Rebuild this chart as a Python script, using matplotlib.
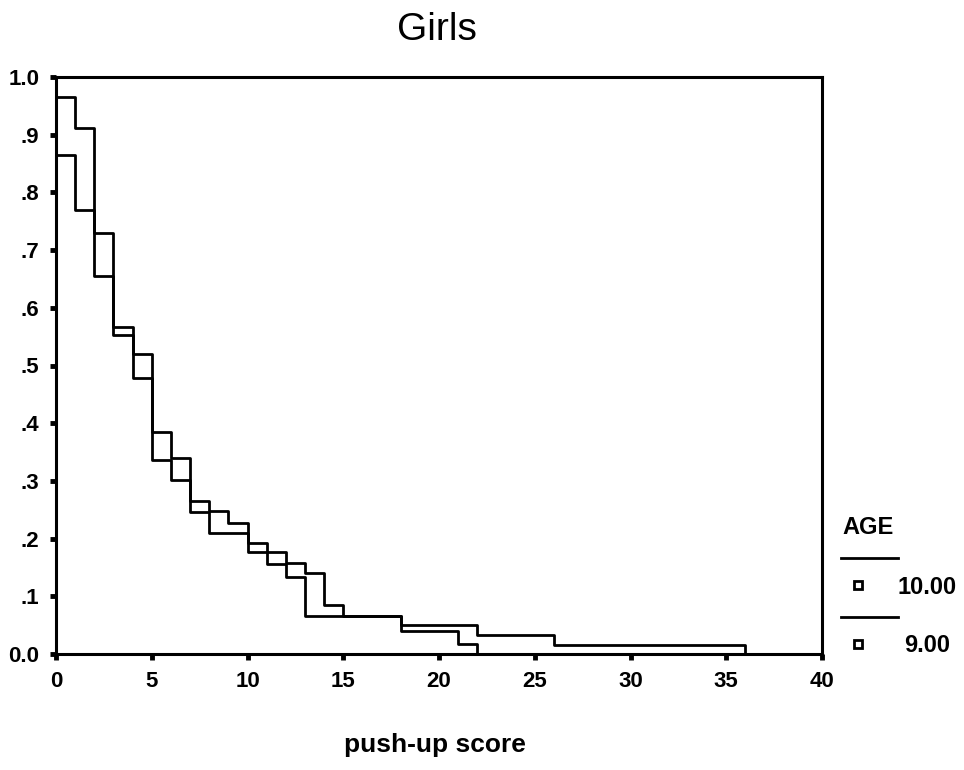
import matplotlib

matplotlib.use("Agg")
import matplotlib.pyplot as plt
from matplotlib.lines import Line2D

plt.rcParams["font.family"] = ["Liberation Sans", "DejaVu Sans"]

# Kaplan-Meier style survival steps for push-up score, by age group
scores_10 = [0, 1, 2, 3, 4, 5, 6, 7, 8, 9, 10, 11, 12, 13, 14, 15, 18, 21, 22, 26, 36]
surv_10 = [0.965, 0.912, 0.730, 0.567, 0.520, 0.385, 0.340, 0.265, 0.248, 0.227,
           0.192, 0.177, 0.158, 0.140, 0.085, 0.066, 0.050, 0.050, 0.033, 0.016, 0.0]

scores_9 = [0, 1, 2, 3, 4, 5, 6, 7, 8, 9, 10, 11, 12, 13, 14, 15, 18, 21, 22]
surv_9 = [0.865, 0.770, 0.655, 0.553, 0.478, 0.336, 0.302, 0.246, 0.210, 0.210,
          0.177, 0.156, 0.133, 0.066, 0.066, 0.066, 0.040, 0.017, 0.0]

age_labels = ["10.00", "9.00"]
x_ticks = [0, 5, 10, 15, 20, 25, 30, 35, 40]
y_ticks = [0.0, 0.1, 0.2, 0.3, 0.4, 0.5, 0.6, 0.7, 0.8, 0.9, 1.0]
y_ticklabels = ["0.0", ".1", ".2", ".3", ".4", ".5", ".6", ".7", ".8", ".9", "1.0"]

W, H = 964, 770
fig = plt.figure(figsize=(W / 100, H / 100), dpi=100)
ax = fig.add_axes([56 / W, 1 - 654 / H, (822 - 56) / W, (654 - 77) / H])


def fpos(x, y):
    # pixel position -> figure fraction
    return x / W, 1 - y / H


ax.step(scores_10, surv_10, where="post", color="black", lw=2.0)
ax.step(scores_9, surv_9, where="post", color="black", lw=2.0)

ax.set_xlim(0, 40)
ax.set_ylim(0, 1.0)
ax.set_xticks(x_ticks)
ax.set_yticks(y_ticks)
ax.set_yticklabels(y_ticklabels)
for s in ax.spines.values():
    s.set_linewidth(2.2)
ax.tick_params(axis="both", length=4, width=3.5, direction="out",
               labelsize=16, pad=8)
for lab in ax.get_xticklabels() + ax.get_yticklabels():
    lab.set_fontweight("bold")

fig.text(*fpos(437, 30), "Girls", fontsize=28, ha="center", va="center")
fig.text(*fpos(435, 745), "push-up score", fontsize=19, fontweight="bold",
         ha="center", va="center")

# legend drawn as in the SPSS survival plot output
fig.text(*fpos(868, 527), "AGE", fontsize=17, fontweight="bold",
         ha="center", va="center")
for i, lab in enumerate(age_labels):
    ly = 558 + i * 59
    fig.add_artist(Line2D([841 / W, 898 / W], [1 - ly / H, 1 - ly / H],
                          color="black", lw=2.0, transform=fig.transFigure))
    mx, my = fpos(858, ly + 27)
    fig.add_artist(Line2D([mx], [my], marker="s", markersize=6,
                          markerfacecolor="white", markeredgecolor="black",
                          markeredgewidth=2.0, transform=fig.transFigure))
    fig.text(*fpos(957 if i == 0 else 950, ly + 29), lab, fontsize=17,
             fontweight="bold", ha="right", va="center")

fig.savefig("out.png", dpi=100)
